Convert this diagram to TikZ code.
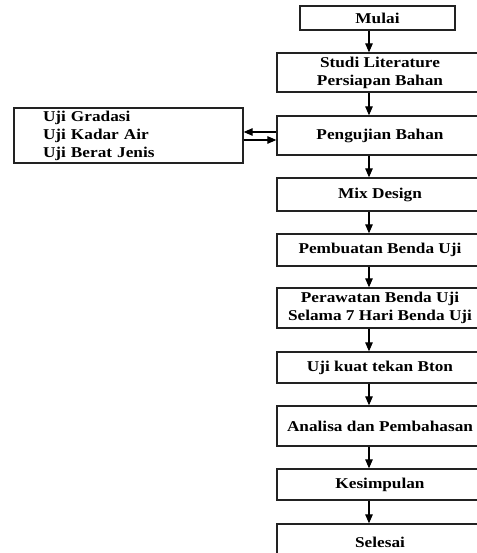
\documentclass[tikz,border=0pt]{standalone}
\usepackage{fontspec}
\setmainfont[FakeStretch=1.15]{Liberation Serif}
\usetikzlibrary{arrows.meta}
\definecolor{linegray}{HTML}{222222}

\begin{document}
\begin{tikzpicture}[x=1pt, y=-1pt, line width=1.1pt, >={Triangle[length=9pt,width=7.5pt]},
  box/.style={draw=linegray, line width=1.3pt, minimum width=206pt, inner sep=0pt, align=center,
    font=\fontsize{15}{18}\selectfont\bfseries},
  flow/.style={draw=black, ->}]
  \useasboundingbox (0,0) rectangle (476,553);

  \node[box, minimum width=155pt, minimum height=24pt] (mulai) at (377.5,18) {Mulai};
  \node[box, minimum height=39pt] (studi) at (380,72.5) {Studi Literature\\Persiapan Bahan};
  \node[box, minimum height=39pt] (uji) at (380,135.5) {Pengujian Bahan};
  \node[box, minimum height=33pt] (mix) at (380,194.5) {Mix Design};
  \node[box, minimum height=32pt] (buat) at (380,250) {Pembuatan Benda Uji};
  \node[box, minimum height=40pt] (rawat) at (380,308) {Perawatan Benda Uji\\Selama 7 Hari Benda Uji};
  \node[box, minimum height=31pt] (kuat) at (380,367.5) {Uji kuat tekan Bton};
  \node[box, minimum height=40pt] (analisa) at (380,426) {Analisa dan Pembahasan};
  \node[box, minimum height=31pt] (simpul) at (380,484.5) {Kesimpulan};
  \node[box, minimum height=36pt] (selesai) at (380,542) {Selesai};

  \node[box, minimum width=0pt, minimum height=55pt, text width=171pt, inner xsep=29pt, align=left]
    (bahan) at (128.5,135.5) {Uji Gradasi\\Uji Kadar Air\\Uji Berat Jenis};

  \coordinate (col) at (369,0);
  \foreach \a/\b in {mulai/studi, studi/uji, uji/mix, mix/buat, buat/rawat,
                     rawat/kuat, kuat/analisa, analisa/simpul, simpul/selesai}{
    \draw[flow] (\a.south -| col) -- (\b.north -| col);
  }

  \draw[flow] ([yshift=3.5pt]uji.west) -- ([yshift=3.5pt]bahan.east);
  \draw[flow] ([yshift=-4.5pt]bahan.east) -- ([yshift=-4.5pt]uji.west);
\end{tikzpicture}
\end{document}
